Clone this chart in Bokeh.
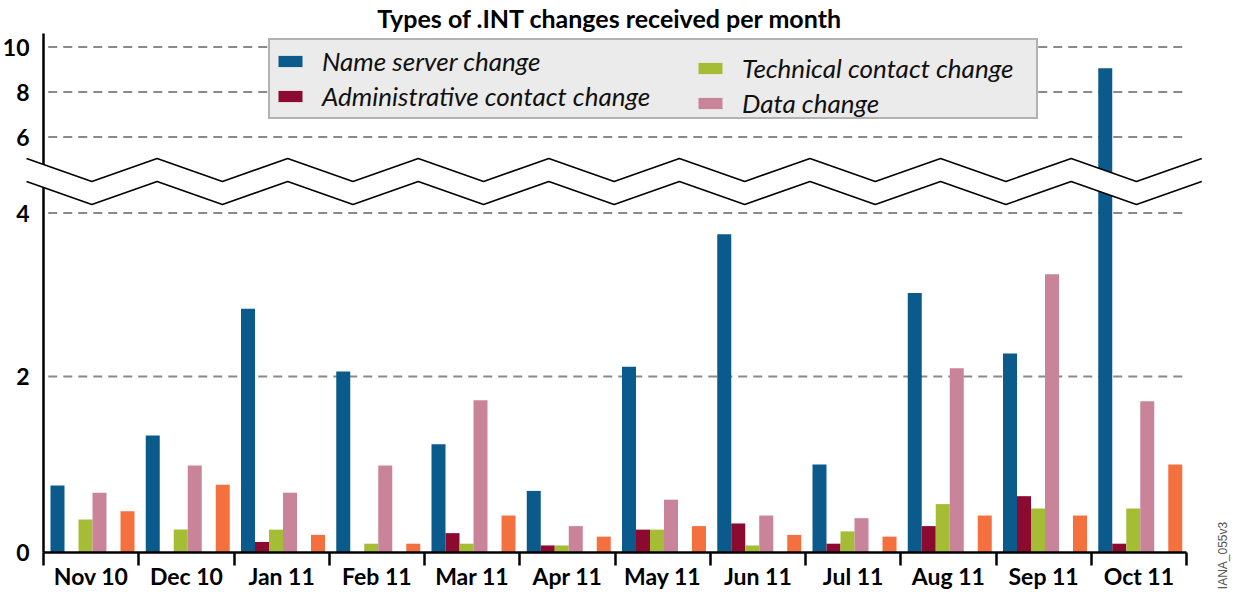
import numpy as np
from bokeh.plotting import figure
from bokeh.models import (FixedTicker, Legend, LegendItem, PolyAnnotation,
                          Label, Range1d)
from bokeh.embed import file_html
from bokeh.resources import INLINE

# ---------------- data ----------------
months = ["Nov 10", "Dec 10", "Jan 11", "Feb 11", "Mar 11", "Apr 11",
          "May 11", "Jun 11", "Jul 11", "Aug 11", "Sep 11", "Oct 11"]
name_server = [0.76, 1.33, 2.83, 2.06, 1.23, 0.70, 2.12, 3.74, 1.00, 3.02, 2.28, 9.06]
administrative = [0.0, 0.0, 0.12, 0.0, 0.22, 0.08, 0.26, 0.33, 0.10, 0.30, 0.64, 0.10]
technical = [0.375, 0.26, 0.26, 0.10, 0.10, 0.08, 0.26, 0.08, 0.24, 0.55, 0.50, 0.50]
data_change = [0.68, 0.99, 0.68, 0.99, 1.73, 0.30, 0.60, 0.42, 0.39, 2.10, 3.25, 1.72]
other_change = [0.47, 0.77, 0.20, 0.10, 0.42, 0.18, 0.30, 0.20, 0.18, 0.42, 0.42, 1.00]

y_tick_values = [0, 2, 4, 6, 8, 10]
grid_values = [2, 4, 6, 8, 10]

# broken axis: value -> display units (piecewise linear scale)
val_knots = [0, 2, 4, 6, 10]
disp_knots = [0, 176, 339.5, 415.5, 505.5]


def disp(v):
    return np.interp(np.asarray(v, dtype=float), val_knots, disp_knots)


series = [
    ("Name server change", name_server, "#0b5a8c", 0),
    ("Administrative contact change", administrative, "#8c0a30", 1),
    ("Technical contact change", technical, "#a5bd35", 2),
    ("Data change", data_change, "#c9849a", 3),
    (None, other_change, "#f4703f", 5),
]

n = len(months)
bar_w = 0.147
group = np.arange(n)
GW = 95.25        # pixels per month group
W, H = 1238, 592
X0, Y0 = 43, 552  # where the axes cross

p = figure(width=W, height=H,
           x_range=Range1d(-X0 / GW, (W - X0) / GW),
           y_range=Range1d(-(H - Y0), Y0),
           output_backend="svg", toolbar_location=None,
           min_border_left=0, min_border_right=0, min_border_top=0,
           min_border_bottom=0)
p.outline_line_color = None
p.background_fill_color = "white"

renderers = {}
for label, vals, color, slot in series:
    xs = group + (1 + slot) * bar_w
    r = p.vbar(x=xs, top=disp(vals), bottom=0, width=bar_w,
               fill_color=color, line_color=None)
    renderers[label] = r

# grid lines (dashed, limited to the plotting area right of the y axis)
p.xgrid.visible = False
p.ygrid.visible = False
gy = disp(grid_values)
p.segment(x0=[0.05] * len(gy), x1=[n] * len(gy), y0=gy, y1=gy,
          line_color="#8a8a8a", line_width=2, line_dash="9 6", level="underlay")

# y axis
p.yaxis.fixed_location = 0
p.yaxis.bounds = (0, 519)
p.yaxis.ticker = FixedTicker(ticks=disp(y_tick_values).tolist())
p.yaxis.major_label_overrides = {float(d): str(v) for d, v in zip(disp(y_tick_values), y_tick_values)}
p.yaxis.major_tick_line_color = None
p.yaxis.minor_tick_line_color = None
p.yaxis.axis_line_width = 2.5
p.yaxis.axis_line_color = "black"
p.yaxis.major_label_text_font = "Lato"
p.yaxis.major_label_text_font_style = "bold"
p.yaxis.major_label_text_font_size = "23px"
p.yaxis.major_label_text_color = "black"
p.yaxis.major_label_standoff = 8

# x axis
centers = (group + 0.5).tolist()
bounds = list(range(n + 1))
p.xaxis.fixed_location = 0
p.xaxis.bounds = (0, n)
p.xaxis.ticker = FixedTicker(ticks=centers, minor_ticks=bounds)
p.xaxis.major_label_overrides = {float(c): m for c, m in zip(centers, months)}
p.xaxis.major_tick_out = 0
p.xaxis.major_tick_in = 0
p.xaxis.major_tick_line_color = None
p.xaxis.minor_tick_out = 13
p.xaxis.minor_tick_in = 0
p.xaxis.minor_tick_line_width = 2.5
p.xaxis.minor_tick_line_color = "black"
p.xaxis.axis_line_width = 2.5
p.xaxis.axis_line_color = "black"
p.xaxis.major_label_text_font = "Lato"
p.xaxis.major_label_text_font_style = "bold"
p.xaxis.major_label_text_font_size = "23px"
p.xaxis.major_label_text_color = "black"
p.xaxis.major_label_standoff = -4

# axis break (zigzag band)
zx = np.linspace(-0.178, 12.16, 19)
upper = np.where(np.arange(19) % 2 == 0, 394.0, 371.0)
lower = upper - 23.0
band = PolyAnnotation(xs=zx.tolist() + zx[::-1].tolist(),
                      ys=upper.tolist() + lower[::-1].tolist(),
                      fill_color="white", fill_alpha=1.0, line_alpha=0)
p.add_layout(band)
for line in (upper, lower):
    p.add_layout(PolyAnnotation(xs=zx.tolist() + zx[::-1].tolist(),
                                ys=line.tolist() + line[::-1].tolist(),
                                fill_alpha=0, line_color="black", line_alpha=1.0,
                                line_width=1.6))

# legends
common = dict(label_text_font="Lato", label_text_font_style="italic",
              label_text_font_size="26px", label_text_color="#111111",
              glyph_width=30, glyph_height=14, label_standoff=17,
              padding=5, spacing=3, orientation="vertical")
legA = Legend(items=[LegendItem(label="Name server change", renderers=[renderers["Name server change"]]),
                     LegendItem(label="Administrative contact change",
                                renderers=[renderers["Administrative contact change"]])],
              location=(268, H - 119), background_fill_color="#ebebeb", background_fill_alpha=1,
              border_line_color="#7a7a7a", border_line_width=2, label_width=709, **common)
legB = Legend(items=[LegendItem(label="Technical contact change",
                                renderers=[renderers["Technical contact change"]]),
                     LegendItem(label="Data change", renderers=[renderers["Data change"]])],
              location=(695, H - 119), background_fill_alpha=0, border_line_color=None, **common)
p.add_layout(legA)
p.add_layout(legB)

# title
p.add_layout(Label(x=609.5, y=H - 17, x_units="screen", y_units="screen",
                   text="Types of .INT changes received per month",
                   text_align="center", text_baseline="middle",
                   text_font="Lato", text_font_style="bold", text_font_size="25px",
                   text_color="black"))

p.add_layout(Label(x=1222, y=H - 555, x_units="screen", y_units="screen", text="IANA_055v3",
                   angle=np.pi / 2, text_align="center", text_baseline="middle",
                   text_font="Liberation Sans", text_font_size="12px", text_color="#555555"))

open("out.html", "w").write(file_html(p, INLINE))
